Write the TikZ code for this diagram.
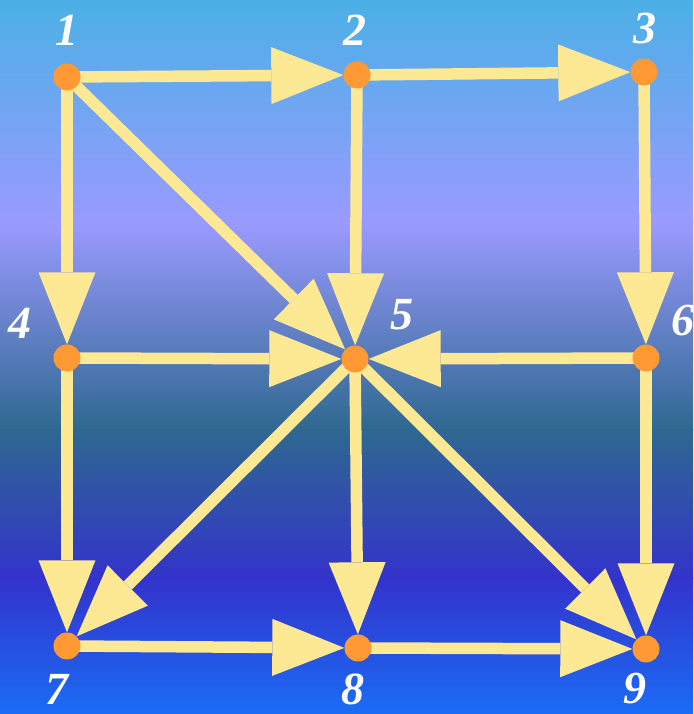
\documentclass[tikz,border=0pt]{standalone}
\usepackage{fontspec}
\setmainfont{Liberation Serif}
\usetikzlibrary{arrows.meta,positioning,backgrounds}

\definecolor{skytop}{HTML}{4BB0E6}
\definecolor{lavender}{HTML}{9A9AFF}
\definecolor{deepteal}{HTML}{2E6890}
\definecolor{violet}{HTML}{3333CC}
\definecolor{brightblue}{HTML}{1B6CF5}
\definecolor{flowyellow}{HTML}{FDE993}
\definecolor{dotorange}{HTML}{FF9933}

\begin{document}
\begin{tikzpicture}[x=1pt,y=1pt,
  vertex/.style={circle,fill=dotorange,minimum size=27pt,inner sep=0pt},
  num/.style={text=white,inner sep=0pt,font=\fontsize{46}{46}\selectfont\bfseries\itshape},
  flow/.style={draw=flowyellow,line width=11.5pt,shorten <=-8pt,
    -{Triangle[length=72pt,width=57pt,line width=0pt]}}]
  \useasboundingbox (0,0) rectangle (693,714);

  % vertices
  \node[vertex] (v1) at (67,637) {};
  \node[vertex] (v2) at (357,639) {};
  \node[vertex] (v3) at (644,642) {};
  \node[vertex] (v4) at (67,356) {};
  \node[vertex] (v5) at (355,355) {};
  \node[vertex] (v6) at (646,356) {};
  \node[vertex] (v7) at (67,68) {};
  \node[vertex] (v8) at (358,66) {};
  \node[vertex] (v9) at (646,65) {};

  % numbers
  \node[num] (l1) at (67,684) {1};
  \node[num] (l2) at (355,684) {2};
  \node[num] (l3) at (645,685) {3};
  \node[num] (l4) at (20,391) {4};
  \node[num] (l5) at (402,399) {5};
  \node[num] (l6) at (683,393) {6};
  \node[num] (l7) at (57,25) {7};
  \node[num] (l8) at (353,25) {8};
  \node[num] (l9) at (635,25) {9};

  \begin{scope}[on background layer]
    % background
    \shade[top color=skytop,bottom color=lavender] (0,490) rectangle (693,714);
    \shade[top color=lavender,bottom color=deepteal] (0,283) rectangle (693,491);
    \shade[top color=deepteal,bottom color=violet] (0,135) rectangle (693,284);
    \shade[top color=violet,bottom color=brightblue] (0,0) rectangle (693,136);

    % arcs
    \draw[flow] (v1) -- (v2);
    \draw[flow] (v2) -- (v3);
    \draw[flow] (v1) -- (v4);
    \draw[flow] (v1) -- (v5);
    \draw[flow] (v2) -- (v5);
    \draw[flow] (v3) -- (v6);
    \draw[flow] (v4) -- (v5);
    \draw[flow] (v6) -- (v5);
    \draw[flow] (v4) -- (v7);
    \draw[flow] (v5) -- (v7);
    \draw[flow] (v5) -- (v8);
    \draw[flow] (v5) -- (v9);
    \draw[flow] (v6) -- (v9);
    \draw[flow] (v7) -- (v8);
    \draw[flow] (v8) -- (v9);
  \end{scope}
\end{tikzpicture}
\end{document}
